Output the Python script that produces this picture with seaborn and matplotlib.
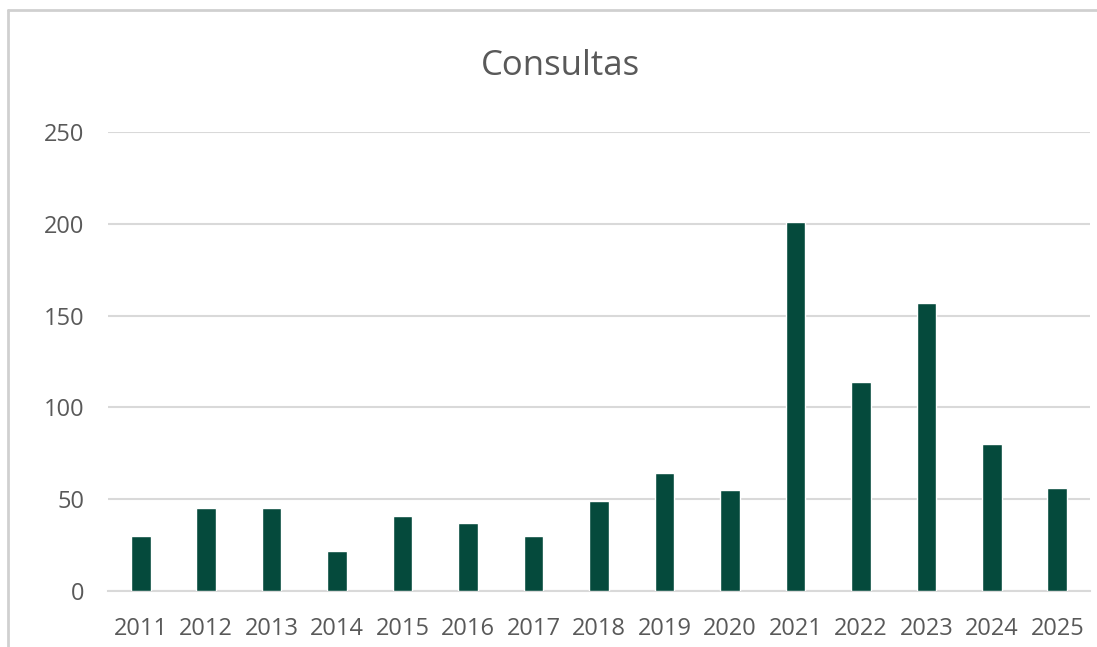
import matplotlib
matplotlib.use("Agg")
import matplotlib.pyplot as plt
import seaborn as sns
import pandas as pd
from matplotlib.lines import Line2D

# --- Data ---
years = ["2011", "2012", "2013", "2014", "2015", "2016", "2017", "2018",
         "2019", "2020", "2021", "2022", "2023", "2024", "2025"]
consultas = [30, 45, 45, 22, 41, 37, 30, 49, 64, 55, 201, 114, 157, 80, 56]

BAR_COLOR = "#054A3C"
TEXT_COLOR = "#595959"
GRID_COLOR = "#D9D9D9"

sns.set_theme(style="white")
plt.rcParams['font.family'] = ['Open Sans', 'DejaVu Sans']

df = pd.DataFrame({"year": years, "consultas": consultas})

fig = plt.figure(figsize=(10.97, 6.47), dpi=100)
ax = fig.add_axes([108 / 1097, 1 - 591 / 647, (1090 - 108) / 1097, (591 - 132) / 647])

sns.barplot(data=df, x="year", y="consultas", color=BAR_COLOR, width=0.3,
            saturation=1, ax=ax, zorder=3)

ax.set_ylim(0, 250)
ax.set_yticks(range(0, 251, 50))
ax.set_xlim(-0.5, len(years) - 0.5)
ax.yaxis.grid(True, color=GRID_COLOR, linewidth=1.5, zorder=0)
ax.set_axisbelow(True)
for side in ["top", "right", "left"]:
    ax.spines[side].set_visible(False)
ax.spines["bottom"].set_color(GRID_COLOR)
ax.spines["bottom"].set_linewidth(1.5)
ax.tick_params(axis="both", length=0, labelsize=17, colors=TEXT_COLOR)
ax.tick_params(axis="y", pad=17)
ax.tick_params(axis="x", pad=19)
ax.set_xlabel("")
ax.set_ylabel("")

fig.text(560 / 1097, 1 - 66 / 647, "Consultas", ha="center", va="center",
         fontsize=25, color=TEXT_COLOR)

# chart frame (left and top edges only are visible in the reference)
frame_x = 8 / 1097
frame_y = 1 - 10 / 647
fig.add_artist(Line2D([frame_x, frame_x], [0, frame_y], transform=fig.transFigure,
                      color="#D0D0D0", linewidth=2))
fig.add_artist(Line2D([frame_x, 1], [frame_y, frame_y], transform=fig.transFigure,
                      color="#D0D0D0", linewidth=2))

fig.savefig("out.png", dpi=100)
